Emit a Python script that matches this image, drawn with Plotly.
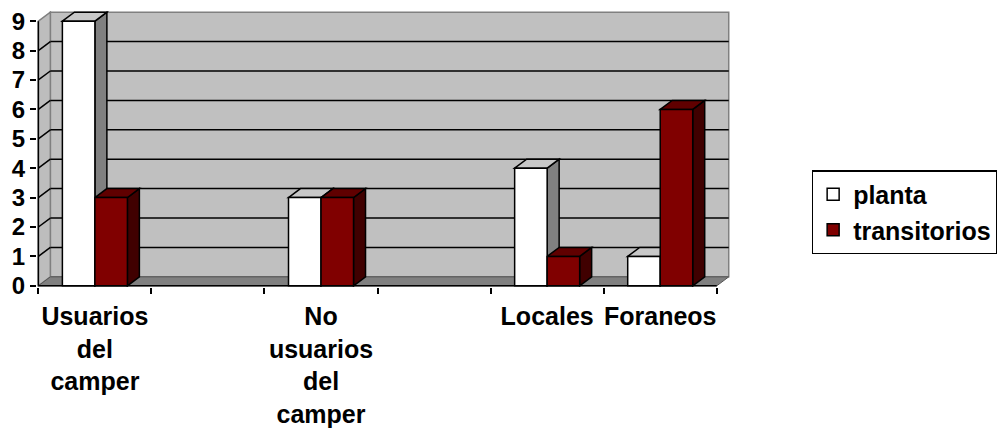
import plotly.graph_objects as go

# Category slots along the floor (two slots are left empty as separators)
categories = ["Usuarios<br>del<br>camper", "", "No<br>usuarios<br>del<br>camper", "", "Locales", "Foraneos"]
planta = [9, None, 3, None, 4, 1]
transitorios = [3, None, 3, None, 1, 6]
y_ticks = [0, 1, 2, 3, 4, 5, 6, 7, 8, 9]

positions = list(range(len(categories)))

# Pixel scale of the front plane and the oblique depth of the pseudo-3D box
PX_X = 113.17          # pixels per category slot
PX_Y = 29.48           # pixels per unit of value
DEPTH_PX_X, DEPTH_PX_Y = 12, 9
DX = DEPTH_PX_X / PX_X
DY = DEPTH_PX_Y / PX_Y
BAR_W = 0.2875
YMAX = max(y_ticks)

W, H = 997, 432
FRONT_LEFT_PX = 38     # pixel of x = -0.5
FRONT_BOTTOM_PX = 286  # pixel of y = 0

x_lo, x_hi = -0.5 - 0.012, len(categories) - 0.5 + DX + 0.02
y_lo, y_hi = -0.04, YMAX + DY + 0.04

m_l = FRONT_LEFT_PX + (x_lo + 0.5) * PX_X
m_r = W - m_l - (x_hi - x_lo) * PX_X
m_b = H - (FRONT_BOTTOM_PX - y_lo * PX_Y)
m_t = FRONT_BOTTOM_PX - y_hi * PX_Y

FONT = "Liberation Sans, Arial, sans-serif"


def poly(pts):
    return "M " + " L ".join(f"{x},{y}" for x, y in pts) + " Z"


shapes = []
x_first, x_last = -0.5, len(categories) - 0.5

# back wall
shapes.append(dict(type="path", layer="below",
                   path=poly([(x_first + DX, DY), (x_last + DX, DY), (x_last + DX, YMAX + DY), (x_first + DX, YMAX + DY)]),
                   fillcolor="#C0C0C0", line=dict(color="#808080", width=1.5)))
# left side wall
shapes.append(dict(type="path", layer="below",
                   path=poly([(x_first, 0), (x_first + DX, DY), (x_first + DX, YMAX + DY), (x_first, YMAX)]),
                   fillcolor="#BDBDBD", line=dict(color="#808080", width=1.5)))
# floor
shapes.append(dict(type="path", layer="below",
                   path=poly([(x_first, 0), (x_last, 0), (x_last + DX, DY), (x_first + DX, DY)]),
                   fillcolor="#808080", line=dict(color="#555555", width=1)))

# gridlines on the back wall and the left wall
for k in y_ticks[1:-1]:
    shapes.append(dict(type="line", layer="below", x0=x_first + DX, x1=x_last + DX, y0=k + DY, y1=k + DY,
                       line=dict(color="black", width=1.5)))
    shapes.append(dict(type="line", layer="below", x0=x_first, x1=x_first + DX, y0=k, y1=k + DY,
                       line=dict(color="black", width=1.5)))

# side and top faces of every column
series = [(planta, -BAR_W, "#808080", "#C8C8C8"),
          (transitorios, 0.0, "#400000", "#600000")]
for i, _ in enumerate(categories):
    for vals, off, side_col, top_col in series:
        v = vals[i]
        if v is None:
            continue
        x0 = positions[i] + off
        x1 = x0 + BAR_W
        shapes.append(dict(type="path", layer="below",
                           path=poly([(x1, 0), (x1 + DX, DY), (x1 + DX, v + DY), (x1, v)]),
                           fillcolor=side_col, line=dict(color="black", width=1.5)))
        shapes.append(dict(type="path", layer="below",
                           path=poly([(x0, v), (x0 + DX, v + DY), (x1 + DX, v + DY), (x1, v)]),
                           fillcolor=top_col, line=dict(color="black", width=1.5)))

# front axis lines
shapes.append(dict(type="line", layer="above", x0=x_first, x1=x_first, y0=0, y1=YMAX,
                   line=dict(color="black", width=1.5)))
shapes.append(dict(type="line", layer="above", x0=x_first, x1=x_last, y0=0, y1=0,
                   line=dict(color="black", width=1.5)))

fig = go.Figure()
fig.add_trace(go.Bar(x=positions, y=planta, name="planta", width=BAR_W, offset=-BAR_W,
                     marker=dict(color="#FFFFFF", line=dict(color="black", width=1.5)),
                     legendgroup="a"))
fig.add_trace(go.Bar(x=positions, y=transitorios, name="transitorios", width=BAR_W, offset=0,
                     marker=dict(color="#800000", line=dict(color="black", width=1.5)),
                     legendgroup="b"))

fig.update_layout(
    width=W, height=H,
    margin=dict(l=m_l, r=m_r, t=m_t, b=m_b, autoexpand=False),
    paper_bgcolor="white", plot_bgcolor="white",
    font=dict(family=FONT, color="black", size=25, weight="bold"),
    barmode="overlay",
    showlegend=True,
    legend=dict(x=(812 - m_l) / (W - m_l - m_r), xanchor="left",
                y=1 - (170 - m_t) / (H - m_t - m_b), yanchor="top",
                bordercolor="black", borderwidth=1.5, bgcolor="white",
                font=dict(family=FONT, size=25, weight="bold", color="black"),
                tracegroupgap=7, traceorder="normal"),
    shapes=shapes,
    xaxis=dict(range=[x_lo, x_hi], tickvals=positions, ticktext=categories, ticks="",
               showgrid=False, zeroline=False, showline=False, ticklabelstandoff=12,
               tickfont=dict(family=FONT, size=25, weight="bold", color="black"),
               minor=dict(tick0=-0.5, dtick=1, ticks="outside", ticklen=6, tickwidth=1.5,
                          tickcolor="black", showgrid=False)),
    yaxis=dict(range=[y_lo, y_hi], tickvals=y_ticks, ticks="outside", ticklen=6, tickwidth=1.5,
               tickcolor="black", showgrid=False, zeroline=False, showline=False,
               tickfont=dict(family=FONT, size=24, weight="bold", color="black")),
)

fig.write_html("out.html")
